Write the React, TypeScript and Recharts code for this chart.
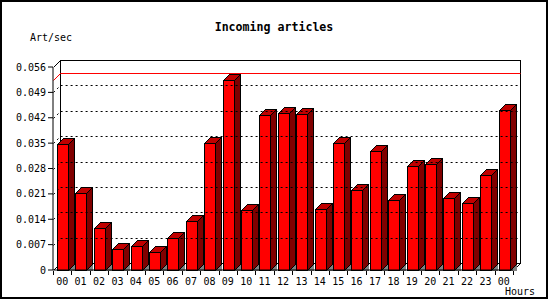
import React from 'react';
import { BarChart, Bar, XAxis, YAxis, ReferenceLine, ReferenceArea } from 'recharts';

const HOURS = ['00', '01', '02', '03', '04', '05', '06', '07', '08', '09', '10', '11', '12',
  '13', '14', '15', '16', '17', '18', '19', '20', '21', '22', '23', '00'];
const ARTICLES = [0.0347, 0.0212, 0.0115, 0.0058, 0.0065, 0.0049, 0.0087, 0.0135, 0.0351, 0.0524,
  0.0165, 0.0427, 0.0432, 0.0430, 0.0167, 0.0351, 0.0220, 0.0329, 0.0192, 0.0287, 0.0292,
  0.0198, 0.0185, 0.0262, 0.0441];
const Y_TICKS = [0, 0.007, 0.014, 0.021, 0.028, 0.035, 0.042, 0.049, 0.056];

const data = HOURS.map((hour, i) => ({ hour, rate: ARTICLES[i] }));
const maxRate = Math.max(...ARTICLES);

const FONT = '"DejaVu Sans Mono", monospace';
const DEPTH = 7;
const BAR_DEPTH = 6;
const r = (v: number) => Math.round(v) + 0.5;

const Bar3D = (props: any) => {
  const { x, y, width, height } = props;
  const x0 = r(x);
  const x1 = r(x + width);
  const y0 = r(y);
  const base = r(y + height);
  const d = BAR_DEPTH;
  return (
    <g shapeRendering="crispEdges">
      <polygon points={`${x1},${base} ${x1 + d},${base - d} ${x1 + d},${base}`} fill="#808080" />
      <polygon
        points={`${x1},${y0} ${x1 + d},${y0 - d} ${x1 + d},${base - d} ${x1},${base}`}
        fill="#800000" stroke="#000" strokeWidth={1}
      />
      <polygon
        points={`${x0},${y0} ${x0 + d},${y0 - d} ${x1 + d},${y0 - d} ${x1},${y0}`}
        fill="#c00000" stroke="#000" strokeWidth={1}
      />
      <rect x={x0} y={y0} width={x1 - x0} height={base - y0} fill="#ff0000" stroke="#000" strokeWidth={1} />
    </g>
  );
};

// back wall + floor edges of the 3d box
const Box = (props: any) => {
  const { x, y, width, height } = props;
  const left = r(x);
  const right = r(x + width);
  const top = r(y);
  const bottom = r(y + height);
  const n = HOURS.length;
  const step = width / n;
  return (
    <g shapeRendering="crispEdges">
      <rect x={left + DEPTH} y={top - DEPTH} width={right - left} height={bottom - top} fill="#fff" stroke="#000" />
      <line x1={left} y1={top} x2={left + DEPTH} y2={top - DEPTH} stroke="#000" />
      <line x1={left} y1={bottom} x2={left + DEPTH} y2={bottom - DEPTH} stroke="#000" />
      <line x1={right} y1={bottom} x2={right + DEPTH} y2={bottom - DEPTH} stroke="#000" />
      {HOURS.map((_, i) => {
        const tx = r(x + i * step);
        return <line key={i} x1={tx} y1={bottom} x2={tx} y2={bottom + 4} stroke="#000" />;
      })}
      <line x1={right} y1={bottom} x2={right} y2={bottom + 4} stroke="#000" />
    </g>
  );
};

// grid line running from the front axis back onto the wall
const BackLine = (props: any) => {
  const { x1, y1, x2, stroke, strokeDasharray } = props;
  const a = r(x1);
  const b = r(x2);
  const yy = r(y1);
  return (
    <polyline
      points={`${a},${yy} ${a + DEPTH},${yy - DEPTH} ${b + DEPTH},${yy - DEPTH}`}
      fill="none" stroke={stroke} strokeWidth={1} strokeDasharray={strokeDasharray}
    />
  );
};

export default function App() {
  return (
    <div style={{ position: 'absolute', left: 0, top: 0, width: 550, height: 300, background: '#fff' }}>
      <svg width={550} height={300} style={{ position: 'absolute', left: 0, top: 0 }}>
        <rect x={1} y={1} width={546} height={297} fill="#fff" stroke="#000" strokeWidth={2} />
        <text x={274} y={31} textAnchor="middle" fontFamily={FONT} fontWeight="bold" fontSize={11.6} fill="#000">
          Incoming articles
        </text>
        <text x={30} y={41} fontFamily={FONT} fontSize={10} fill="#000">Art/sec</text>
        <text x={505} y={295} fontFamily={FONT} fontSize={10} fill="#000">Hours</text>
      </svg>
      <div style={{ position: 'absolute', left: 0, top: 0 }}>
        <BarChart width={550} height={300} data={data} margin={{ top: 67, right: 37, bottom: 8, left: 0 }}>
          <ReferenceArea y1={0} y2={0.056} shape={Box} ifOverflow="visible" />
          {Y_TICKS.slice(1, -1).map((t) => (
            <ReferenceLine key={t} y={t} stroke="#000" strokeDasharray="2 3" shape={BackLine} ifOverflow="visible" />
          ))}
          <ReferenceLine y={maxRate} stroke="#ff0000" shape={BackLine} ifOverflow="visible" />
          <XAxis
            dataKey="hour"
            interval={0}
            height={22}
            tickLine={false}
            axisLine={{ stroke: '#000' }}
            tick={{ fill: '#000', fontSize: 10, fontFamily: FONT }}
          />
          <YAxis
            width={53}
            domain={[0, 0.056]}
            ticks={Y_TICKS}
            interval={0}
            tickSize={5}
            axisLine={{ stroke: '#000' }}
            tickLine={{ stroke: '#000' }}
            tickFormatter={(v: number) => (v === 0 ? '0' : v.toFixed(3))}
            tick={{ fill: '#000', fontSize: 10, fontFamily: FONT }}
          />
          <Bar dataKey="rate" barSize={11} shape={Bar3D} isAnimationActive={false} />
        </BarChart>
      </div>
    </div>
  );
}
